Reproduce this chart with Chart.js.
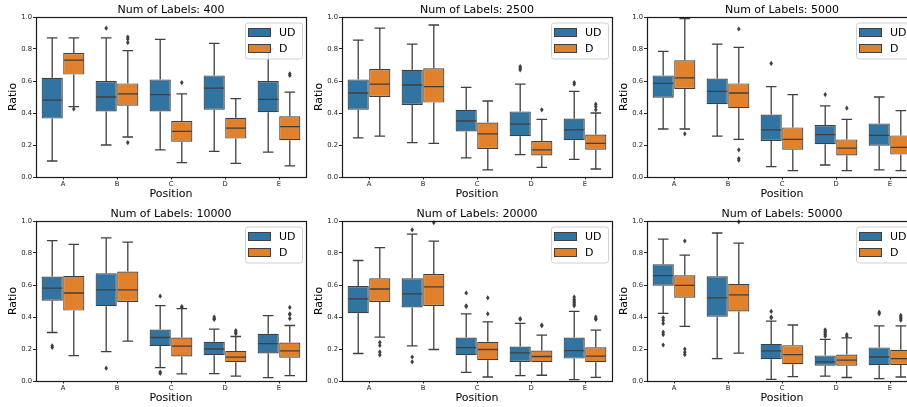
<!DOCTYPE html>
<html>
<head>
<meta charset="utf-8">
<script src="https://cdn.jsdelivr.net/npm/chart.js@4"></script>
<style>
  html, body { margin: 0; padding: 0; background: #fff; }
  body { width: 907px; height: 407px; overflow: hidden; position: relative; }
  canvas { position: absolute; }
</style>
</head>
<body>
<canvas id="c0"></canvas>
<canvas id="c1"></canvas>
<canvas id="c2"></canvas>
<canvas id="c3"></canvas>
<canvas id="c4"></canvas>
<canvas id="c5"></canvas>
<script>
// categories + ticks
const positions = ['A', 'B', 'C', 'D', 'E'];
const yTicks = [0, 0.2, 0.4, 0.6, 0.8, 1.0];
const labelCounts = [400, 2500, 5000, 10000, 20000, 50000];

// each entry: [low whisker, q1, median, q3, high whisker]
const ud400 = [[0.10, 0.365, 0.48, 0.62, 0.87], [0.20, 0.41, 0.50, 0.60, 0.87], [0.17, 0.41, 0.515, 0.61, 0.86], [0.16, 0.42, 0.555, 0.635, 0.835], [0.155, 0.405, 0.485, 0.60, 0.80]];
const d400 = [[0.44, 0.64, 0.73, 0.775, 0.87], [0.25, 0.445, 0.52, 0.585, 0.79], [0.09, 0.22, 0.285, 0.35, 0.52], [0.085, 0.24, 0.305, 0.37, 0.49], [0.07, 0.23, 0.315, 0.38, 0.53]];
const udOut400 = [[], [0.93], [], [], []];
const dOut400 = [[0.425], [0.215, 0.84, 0.862, 0.875], [0.59], [], [0.635, 0.645]];

const ud2500 = [[0.245, 0.42, 0.525, 0.61, 0.855], [0.215, 0.45, 0.575, 0.67, 0.83], [0.12, 0.285, 0.35, 0.42, 0.56], [0.14, 0.255, 0.33, 0.41, 0.58], [0.11, 0.23, 0.295, 0.365, 0.535]];
const d2500 = [[0.255, 0.50, 0.58, 0.675, 0.93], [0.21, 0.465, 0.565, 0.68, 0.95], [0.045, 0.175, 0.27, 0.34, 0.475], [0.06, 0.135, 0.17, 0.225, 0.36], [0.05, 0.17, 0.21, 0.265, 0.40]];
const udOut2500 = [[], [], [], [0.67, 0.68, 0.69], [0.58, 0.59]];
const dOut2500 = [[], [], [], [0.42], [0.42, 0.44, 0.455]];

const ud5000 = [[0.30, 0.495, 0.585, 0.635, 0.785], [0.255, 0.455, 0.535, 0.615, 0.83], [0.065, 0.225, 0.295, 0.39, 0.565], [0.075, 0.205, 0.265, 0.325, 0.445], [0.045, 0.195, 0.26, 0.335, 0.50]];
const d5000 = [[0.30, 0.55, 0.62, 0.73, 0.99], [0.235, 0.43, 0.525, 0.585, 0.81], [0.04, 0.17, 0.235, 0.31, 0.515], [0.04, 0.135, 0.18, 0.235, 0.36], [0.04, 0.14, 0.185, 0.26, 0.415]];
const udOut5000 = [[], [], [0.71], [0.515], []];
const dOut5000 = [[0.27], [0.925, 0.17, 0.115, 0.105], [], [0.43], []];

const ud10000 = [[0.303, 0.502, 0.58, 0.653, 0.877], [0.184, 0.467, 0.569, 0.674, 0.895], [0.084, 0.218, 0.272, 0.322, 0.471], [0.046, 0.161, 0.20, 0.245, 0.324], [0.021, 0.172, 0.234, 0.295, 0.408]];
const d10000 = [[0.159, 0.44, 0.55, 0.657, 0.854], [0.249, 0.494, 0.569, 0.684, 0.868], [0.044, 0.153, 0.218, 0.272, 0.452], [0.031, 0.117, 0.149, 0.188, 0.278], [0.033, 0.146, 0.188, 0.241, 0.347]];
const udOut10000 = [[0.21, 0.22], [0.08], [0.53, 0.056, 0.048], [0.385, 0.39, 0.40], []];
const dOut10000 = [[], [], [0.46, 0.465], [0.295, 0.305, 0.315], [0.39, 0.415, 0.42, 0.46]];

const ud20000 = [[0.172, 0.423, 0.513, 0.594, 0.753], [0.22, 0.46, 0.544, 0.642, 0.918], [0.054, 0.161, 0.209, 0.272, 0.42], [0.033, 0.119, 0.176, 0.215, 0.36], [0.008, 0.14, 0.19, 0.272, 0.435]];
const d20000 = [[0.274, 0.494, 0.575, 0.642, 0.833], [0.197, 0.469, 0.588, 0.669, 0.874], [0.025, 0.13, 0.197, 0.245, 0.37], [0.036, 0.117, 0.153, 0.19, 0.287], [0.023, 0.117, 0.155, 0.211, 0.318]];
const udOut20000 = [[], [0.945, 0.15, 0.12], [0.465, 0.47, 0.55], [0.385, 0.39], [0.47, 0.48, 0.49, 0.50, 0.51, 0.525]];
const dOut20000 = [[0.241, 0.222, 0.182, 0.163], [0.99], [0.42, 0.52], [0.345, 0.35], [0.385, 0.39, 0.40]];

const ud50000 = [[0.423, 0.596, 0.659, 0.73, 0.887], [0.14, 0.402, 0.519, 0.655, 0.925], [0.01, 0.136, 0.188, 0.232, 0.374], [0.03, 0.095, 0.12, 0.16, 0.26], [0.015, 0.098, 0.15, 0.21, 0.345]];
const d50000 = [[0.341, 0.521, 0.598, 0.661, 0.787], [0.174, 0.435, 0.538, 0.607, 0.862], [0.027, 0.105, 0.165, 0.224, 0.35], [0.022, 0.095, 0.13, 0.165, 0.27], [0.025, 0.10, 0.14, 0.195, 0.345]];
const udOut50000 = [[0.395, 0.38, 0.36, 0.305, 0.29, 0.225], [], [0.395, 0.40, 0.435], [0.28, 0.29, 0.30, 0.31, 0.32], [0.42, 0.43]];
const dOut50000 = [[0.875, 0.2, 0.18, 0.165], [0.995], [], [0.28, 0.29], [0.38, 0.39, 0.40, 0.41]];

const udStats = [ud400, ud2500, ud5000, ud10000, ud20000, ud50000];
const dStats = [d400, d2500, d5000, d10000, d20000, d50000];
const udOutliers = [udOut400, udOut2500, udOut5000, udOut10000, udOut20000, udOut50000];
const dOutliers = [dOut400, dOut2500, dOut5000, dOut10000, dOut20000, dOut50000];

const blue = '#3274a1';
const orange = '#e1812c';
const lineGray = '#3f3f3f';
const font = 'DejaVu Sans';

// whiskers, medians, fliers, frame and legend
const boxExtras = {
    id: 'boxExtras',
    afterDatasetsDraw(chart) {
        const ctx = chart.ctx;
        const y = chart.scales.y;
        chart.data.datasets.forEach((ds, di) => {
            const meta = chart.getDatasetMeta(di);
            meta.data.forEach((bar, i) => {
                const [lo, q1, med, q3, hi] = ds.stats[i];
                const half = bar.width / 2;
                const cap = half / 2;
                ctx.save();
                ctx.strokeStyle = lineGray;
                ctx.lineWidth = 1.3;
                ctx.beginPath();
                ctx.moveTo(bar.x, y.getPixelForValue(q1));
                ctx.lineTo(bar.x, y.getPixelForValue(lo));
                ctx.moveTo(bar.x, y.getPixelForValue(q3));
                ctx.lineTo(bar.x, y.getPixelForValue(hi));
                ctx.moveTo(bar.x - cap, y.getPixelForValue(lo));
                ctx.lineTo(bar.x + cap, y.getPixelForValue(lo));
                ctx.moveTo(bar.x - cap, y.getPixelForValue(hi));
                ctx.lineTo(bar.x + cap, y.getPixelForValue(hi));
                ctx.moveTo(bar.x - half + 0.6, y.getPixelForValue(med));
                ctx.lineTo(bar.x + half - 0.6, y.getPixelForValue(med));
                ctx.stroke();
                ctx.fillStyle = lineGray;
                ds.outliers[i].forEach(v => {
                    const py = y.getPixelForValue(v);
                    ctx.beginPath();
                    ctx.moveTo(bar.x, py - 2.6);
                    ctx.lineTo(bar.x + 1.8, py);
                    ctx.lineTo(bar.x, py + 2.6);
                    ctx.lineTo(bar.x - 1.8, py);
                    ctx.closePath();
                    ctx.fill();
                });
                ctx.restore();
            });
        });

        const a = chart.chartArea;
        ctx.save();
        ctx.strokeStyle = '#1a1a1a';
        ctx.lineWidth = 1.2;
        ctx.strokeRect(Math.round(a.left) + 0.5, Math.round(a.top) + 0.5, Math.round(a.right - a.left), Math.round(a.bottom - a.top));

        // legend box in the upper right corner
        const lw = 57, lh = 36;
        const lx = a.right - 4 - lw, ly = a.top + 5.5;
        ctx.lineWidth = 1;
        ctx.fillStyle = 'rgba(255,255,255,0.8)';
        ctx.strokeStyle = '#d0d0d0';
        ctx.beginPath();
        ctx.roundRect(lx + 0.5, ly + 0.5, lw, lh, 2.5);
        ctx.fill();
        ctx.stroke();
        chart.data.datasets.forEach((ds, di) => {
            const ry = ly + 10 + di * 16;
            ctx.fillStyle = ds.backgroundColor;
            ctx.strokeStyle = lineGray;
            ctx.fillRect(lx + 3.5, ry - 4, 22, 8);
            ctx.strokeRect(lx + 3.5, ry - 4, 22, 8);
            ctx.fillStyle = '#000';
            ctx.font = '11px "' + font + '"';
            ctx.textBaseline = 'middle';
            ctx.fillText(ds.label, lx + 34, ry + 0.5);
        });
        ctx.restore();
    }
};

function makePanel(idx, left, top) {
    const canvas = document.getElementById('c' + idx);
    canvas.width = 310;
    canvas.height = 203;
    canvas.style.left = left + 'px';
    canvas.style.top = top + 'px';

    new Chart(canvas.getContext('2d'), {
        type: 'bar',
        data: {
            labels: positions,
            datasets: [
                {
                    label: 'UD',
                    data: udStats[idx].map(s => [s[1], s[3]]),
                    stats: udStats[idx],
                    outliers: udOutliers[idx],
                    backgroundColor: blue,
                    borderColor: lineGray,
                    borderWidth: 1.2,
                    borderSkipped: false,
                    categoryPercentage: 0.8,
                    barPercentage: 0.98
                },
                {
                    label: 'D',
                    data: dStats[idx].map(s => [s[1], s[3]]),
                    stats: dStats[idx],
                    outliers: dOutliers[idx],
                    backgroundColor: orange,
                    borderColor: lineGray,
                    borderWidth: 1.2,
                    borderSkipped: false,
                    categoryPercentage: 0.8,
                    barPercentage: 0.98
                }
            ]
        },
        options: {
            responsive: false,
            animation: false,
            devicePixelRatio: 1,
            events: [],
            layout: { padding: { top: 0, right: 4, bottom: 0, left: 0 } },
            plugins: {
                legend: { display: false },
                tooltip: { enabled: false },
                title: {
                    display: true,
                    text: 'Num of Labels: ' + labelCounts[idx],
                    fullSize: false,
                    color: '#000',
                    font: { family: font, size: 11, weight: 'normal' },
                    padding: { top: 3.8, bottom: 0 }
                }
            },
            scales: {
                x: {
                    offset: true,
                    grid: { offset: false, drawOnChartArea: false, drawTicks: true, tickLength: 2.5, color: '#262626' },
                    border: { display: false },
                    ticks: { color: '#262626', padding: 1, font: { family: font, size: 6.8 } },
                    title: {
                        display: true,
                        text: 'Position',
                        color: '#000',
                        font: { family: font, size: 11 },
                        padding: { top: 0, bottom: 2 }
                    },
                    afterFit(scale) { scale.height = 26; }
                },
                y: {
                    min: 0,
                    max: 1,
                    afterBuildTicks(scale) { scale.ticks = yTicks.map(v => ({ value: v })); },
                    grid: { drawOnChartArea: false, drawTicks: true, tickLength: 3, color: '#262626' },
                    border: { display: false },
                    ticks: {
                        color: '#262626',
                        padding: 1,
                        font: { family: font, size: 6.8 },
                        callback: v => Number(v).toFixed(1)
                    },
                    title: {
                        display: true,
                        text: 'Ratio',
                        color: '#000',
                        font: { family: font, size: 11 },
                        padding: { top: 7, bottom: 0 }
                    },
                    afterFit(scale) { scale.width = 36; }
                }
            }
        },
        plugins: [boxExtras]
    });
}

const colLeft = [0, 306, 611];
const rowTop = [0, 204];
labelCounts.forEach((n, i) => {
    makePanel(i, colLeft[i % 3], rowTop[Math.floor(i / 3)]);
});
</script>
</body>
</html>
